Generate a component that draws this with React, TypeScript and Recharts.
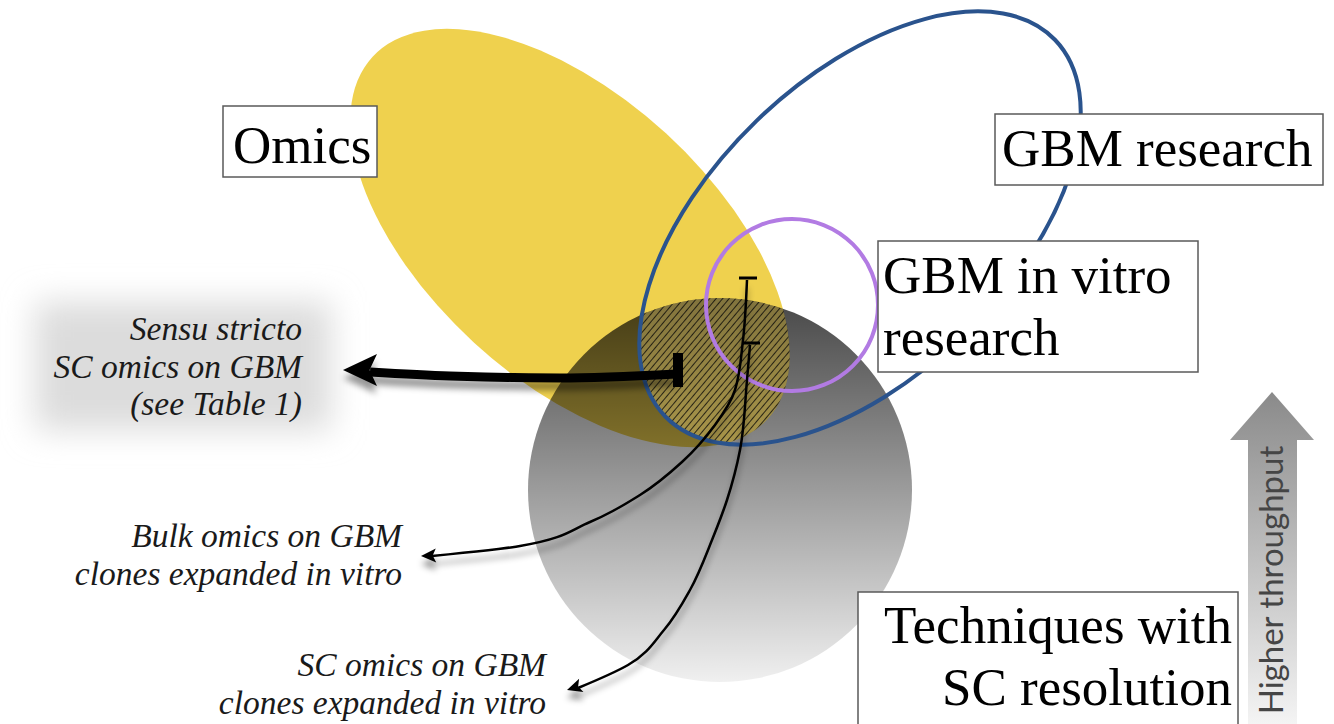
import React from 'react';
import { ComposedChart, XAxis, YAxis, Scatter } from 'recharts';

const W = 1334;
const H = 724;

// the four sets: centre, semi-axes and tilt (degrees, clockwise on screen)
const omicsSet = [{ x: 570, y: 238, rx: 268, ry: 142, angle: 42.5 }];
const gbmSet = [{ x: 860, y: 228, rx: 271, ry: 149, angle: -44 }];
const inVitroSet = [{ x: 792, y: 305, rx: 86, ry: 86, angle: 0 }];
const scSet = [{ x: 720, y: 490, rx: 192, ry: 192, angle: 0 }];

// arrow paths
const sensuPath = [
  { x: 676, y: 374 },
  { x: 560, y: 378 },
  { x: 450, y: 376 },
  { x: 370, y: 372 },
];
const bulkPath = [
  { x: 747, y: 280 },
  { x: 743, y: 340 },
  { x: 735, y: 390 },
  { x: 715, y: 425 },
  { x: 682, y: 462 },
  { x: 640, y: 495 },
  { x: 590, y: 522 },
  { x: 520, y: 546 },
  { x: 432, y: 556 },
];
const scPath = [
  { x: 750, y: 345 },
  { x: 747, y: 380 },
  { x: 740, y: 450 },
  { x: 727, y: 500 },
  { x: 712, y: 540 },
  { x: 690, y: 590 },
  { x: 664, y: 630 },
  { x: 628, y: 665 },
  { x: 578, y: 688 },
];
const thickHeads = [{ x: 343, y: 370, angle: 180 }];
const thinHeads = [
  { x: 421, y: 556, angle: 178 },
  { x: 567, y: 690, angle: 162 },
];
const thickBars = [{ x: 678, y: 370, angle: 90 }];
const thinBars = [
  { x: 748, y: 278, angle: 0 },
  { x: 751, y: 343, angle: 0 },
];

// boxed set names
const setLabels = [
  { name: 'omics', x: 223, y: 106, lines: ['Omics'] },
  { name: 'gbm', x: 995, y: 114, lines: ['GBM research'] },
  { name: 'vitro', x: 878, y: 241, lines: ['GBM in vitro', 'research'] },
  { name: 'sc', x: 858, y: 592, lines: ['Techniques with', 'SC resolution'] },
];

// italic call-outs (right edge, first baseline)
const callouts = [
  { x: 302, y: 340, lines: ['Sensu stricto', 'SC omics on GBM', '(see Table 1)'] },
  { x: 402, y: 547, lines: ['Bulk omics on GBM', 'clones expanded in vitro'] },
  { x: 546, y: 676, lines: ['SC omics on GBM', 'clones expanded in vitro'] },
];
const calloutPanel = [{ x: 183, y: 366 }];
const throughput = [{ x: 1272, y: 392, label: 'Higher throughput' }];

const BOX: Record<string, { w: number; h: number; tx: number; ty: number; anchor: 'start' | 'end' }> = {
  omics: { w: 154, h: 71, tx: 10, ty: 57, anchor: 'start' },
  gbm: { w: 328, h: 71, tx: 7, ty: 52, anchor: 'start' },
  vitro: { w: 320, h: 131, tx: 5, ty: 52, anchor: 'start' },
  sc: { w: 380, h: 140, tx: 374, ty: 51, anchor: 'end' },
};

const SERIF = '"Liberation Serif", "Times New Roman", serif';

const Defs = () => (
  <defs>
    <linearGradient id="scFade" x1="0" y1="0" x2="0" y2="1">
      <stop offset="0" stopColor="#000" stopOpacity={0.72} />
      <stop offset="1" stopColor="#000" stopOpacity={0.06} />
    </linearGradient>
    <linearGradient id="throughputFade" x1="0" y1="0" x2="0" y2="1">
      <stop offset="0" stopColor="#8a8a8a" />
      <stop offset="1" stopColor="#f4f4f4" />
    </linearGradient>
    <pattern id="hatch" patternUnits="userSpaceOnUse" width="5" height="5" patternTransform="rotate(40)">
      <rect x="0" y="0" width="5" height="5" fill="#f3dc84" fillOpacity={0.42} />
      <line x1="0" y1="0" x2="0" y2="5" stroke="#1c1a12" strokeWidth="2" />
    </pattern>
    <filter id="dropShadow" filterUnits="userSpaceOnUse" x="0" y="0" width={W} height={H}>
      <feDropShadow dx="0" dy="8" stdDeviation="3" floodColor="#000" floodOpacity="0.4" />
    </filter>
    <filter id="panelBlur" filterUnits="userSpaceOnUse" x="0" y="0" width={W} height={H}>
      <feGaussianBlur stdDeviation="16" />
    </filter>
  </defs>
);

const noDot = () => <g />;

const panelShape = (p: any) => (
  <g>
    <Defs />
    <rect x={p.cx - 148} y={p.cy - 64} width={296} height={128} fill="#dcdcdc" filter="url(#panelBlur)" />
  </g>
);

const ellipseShape = (id: string, paint: any) => (p: any) => {
  const { cx, cy, payload } = p;
  const tf = `rotate(${payload.angle} ${cx} ${cy})`;
  return (
    <g>
      <clipPath id={id}>
        <ellipse cx={cx} cy={cy} rx={payload.rx} ry={payload.ry} transform={tf} />
      </clipPath>
      <ellipse cx={cx} cy={cy} rx={payload.rx} ry={payload.ry} transform={tf} {...paint} />
    </g>
  );
};

const hatchShape = (p: any) => {
  const r = p.payload.rx;
  return (
    <g clipPath="url(#clip-omics)">
      <g clipPath="url(#clip-gbm)">
        <g clipPath="url(#clip-sc)">
          <rect x={p.cx - r} y={p.cy - r} width={2 * r} height={2 * r} fill="url(#hatch)" opacity={0.85} />
        </g>
      </g>
    </g>
  );
};

const headShape = (len: number, half: number) => (p: any) => (
  <g filter="url(#dropShadow)">
    <path
      transform={`translate(${p.cx} ${p.cy}) rotate(${p.payload.angle})`}
      d={`M0,0 L${-len},${-half} L${-len * 0.78},0 L${-len},${half} Z`}
      fill="#000"
    />
  </g>
);

const barShape = (len: number, thick: number) => (p: any) => (
  <line
    transform={`translate(${p.cx} ${p.cy}) rotate(${p.payload.angle})`}
    x1={-len / 2}
    x2={len / 2}
    y1={0}
    y2={0}
    stroke="#000"
    strokeWidth={thick}
  />
);

const labelShape = (p: any) => {
  const { cx, cy, payload } = p;
  const b = BOX[payload.name];
  return (
    <g>
      <rect x={cx} y={cy} width={b.w} height={b.h} fill="#fff" stroke="#5a5a5a" strokeWidth={1.5} />
      <text fontFamily={SERIF} fontSize={53} fill="#000" textAnchor={b.anchor}>
        {payload.lines.map((l: string, i: number) => (
          <tspan key={i} x={cx + b.tx} y={cy + b.ty + i * 62}>
            {l}
          </tspan>
        ))}
      </text>
    </g>
  );
};

const calloutShape = (p: any) => (
  <text fontFamily={SERIF} fontStyle="italic" fontSize={33.5} fill="#1a1a1a" textAnchor="end">
    {p.payload.lines.map((l: string, i: number) => (
      <tspan key={i} x={p.cx} y={p.cy + i * 37.5}>
        {l}
      </tspan>
    ))}
  </text>
);

const throughputShape = (p: any) => {
  const { cx, cy, payload } = p;
  const headY = cy + 48;
  const pts = [
    [cx, cy],
    [cx + 42, headY],
    [cx + 25, headY],
    [cx + 25, H],
    [cx - 24, H],
    [cx - 24, headY],
    [cx - 42, headY],
  ]
    .map((q) => q.join(','))
    .join(' ');
  const midY = (headY + H) / 2;
  return (
    <g>
      <polygon points={pts} fill="url(#throughputFade)" />
      <text
        transform={`translate(${cx + 11} ${midY - 2}) rotate(-90)`}
        textAnchor="middle"
        fontFamily="Lato, 'Open Sans', sans-serif"
        fontSize={33}
        fill="#454545"
      >
        {payload.label}
      </text>
    </g>
  );
};

const VennDiagram = () => (
  <ComposedChart width={W} height={H} margin={{ top: 0, right: 0, bottom: 0, left: 0 }}>
    <XAxis type="number" dataKey="x" domain={[0, W]} hide />
    <YAxis type="number" dataKey="y" domain={[0, H]} reversed hide />
    <Scatter data={calloutPanel} shape={panelShape} isAnimationActive={false} />
    <Scatter data={omicsSet} shape={ellipseShape('clip-omics', { fill: '#EFD14E' })} isAnimationActive={false} />
    <Scatter data={scSet} shape={ellipseShape('clip-sc', { fill: 'url(#scFade)' })} isAnimationActive={false} />
    <Scatter data={scSet} shape={hatchShape} isAnimationActive={false} />
    <Scatter
      data={gbmSet}
      shape={ellipseShape('clip-gbm', { fill: 'none', stroke: '#2A538D', strokeWidth: 4 })}
      isAnimationActive={false}
    />
    <Scatter
      data={inVitroSet}
      shape={ellipseShape('clip-vitro', { fill: 'none', stroke: '#B27BE3', strokeWidth: 4 })}
      isAnimationActive={false}
    />
    <Scatter
      data={sensuPath}
      fill="#000"
      line={{ stroke: '#000', strokeWidth: 9, filter: 'url(#dropShadow)' }}
      lineJointType="monotoneX"
      shape={noDot}
      isAnimationActive={false}
    />
    <Scatter
      data={bulkPath}
      fill="#000"
      line={{ stroke: '#000', strokeWidth: 2.5, filter: 'url(#dropShadow)' }}
      lineJointType="monotoneY"
      shape={noDot}
      isAnimationActive={false}
    />
    <Scatter
      data={scPath}
      fill="#000"
      line={{ stroke: '#000', strokeWidth: 2.5, filter: 'url(#dropShadow)' }}
      lineJointType="monotoneY"
      shape={noDot}
      isAnimationActive={false}
    />
    <Scatter data={thickHeads} shape={headShape(34, 16)} isAnimationActive={false} />
    <Scatter data={thinHeads} shape={headShape(15, 7)} isAnimationActive={false} />
    <Scatter data={thickBars} shape={barShape(34, 10)} isAnimationActive={false} />
    <Scatter data={thinBars} shape={barShape(18, 3)} isAnimationActive={false} />
    <Scatter data={setLabels} shape={labelShape} isAnimationActive={false} />
    <Scatter data={callouts} shape={calloutShape} isAnimationActive={false} />
    <Scatter data={throughput} shape={throughputShape} isAnimationActive={false} />
  </ComposedChart>
);

export default function App() {
  return (
    <div style={{ position: 'absolute', left: 0, top: 0, width: W, height: H, background: '#fff' }}>
      <VennDiagram />
    </div>
  );
}
